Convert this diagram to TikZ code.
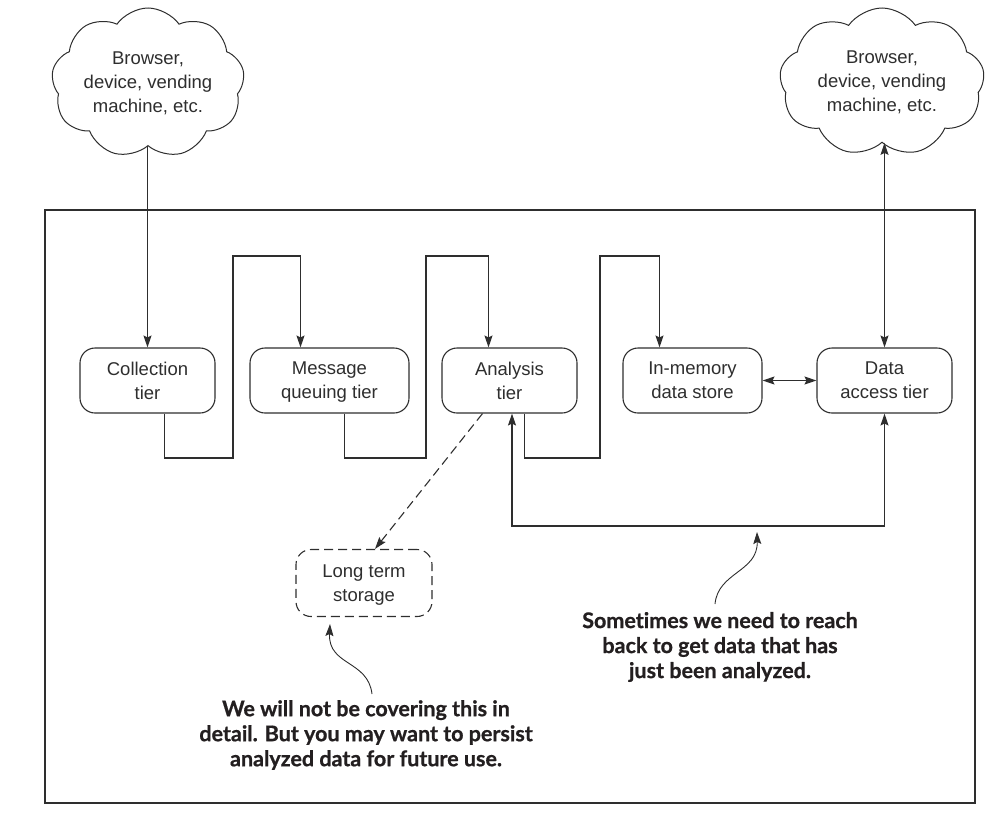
\documentclass[tikz,border=0pt]{standalone}
\usepackage{fontspec}
\setmainfont{Liberation Sans}
\newfontfamily\notefont{Lato}[Ligatures=NoCommon, BoldFeatures={FakeBold=0.8}]
\usetikzlibrary{shapes.symbols,arrows.meta}
\definecolor{ink}{HTML}{2E2E2E}
\definecolor{notes}{HTML}{231F20}
\begin{document}
\begin{tikzpicture}[x=1pt,y=-1pt,
  line width=1.1pt, draw=ink,
  every node/.style={text=ink, font=\fontsize{18.5}{24}\selectfont, align=center},
  tier/.style={draw=ink, rounded corners=15pt, minimum height=65pt, inner sep=2pt, text depth=0pt},
  sky/.style={draw=ink, line width=1pt, cloud, cloud puffs=9, cloud puff arc=110, cloud ignores aspect,
              minimum width=193pt, minimum height=150pt, inner sep=0pt},
  tip/.style={-{Stealth[length=12pt,width=8pt,inset=2pt]}},
  tips/.style={{Stealth[length=12pt,width=8pt,inset=2pt]}-{Stealth[length=12pt,width=8pt,inset=2pt]}},
  note/.style={text=notes, font=\notefont\bfseries\fontsize{21.5}{25}\selectfont, align=center}
]
\useasboundingbox (0,0) rectangle (1007,817);

% system boundary
\draw[ink] (45,210) rectangle (975,803);

% client clouds
\node[sky] (cloudL) at (148,83) {Browser,\\device, vending\\machine, etc.};
\node[sky, minimum width=205pt, minimum height=148pt] (cloudR) at (882,82) {Browser,\\device, vending\\machine, etc.};

% tiers
\node[tier, minimum width=135pt] (col) at (147.5,380.5) {Collection\\tier};
\node[tier, minimum width=159pt] (msg) at (329.5,380.5) {Message\\queuing tier};
\node[tier, minimum width=135pt] (ana) at (509.5,380.5) {Analysis\\tier};
\node[tier, minimum width=139pt] (mem) at (692.5,380.5) {In-memory\\data store};
\node[tier, minimum width=135pt] (dat) at (884.5,380.5) {Data\\access tier};
\node[tier, dashed, dash pattern=on 9pt off 5pt, minimum width=136pt, minimum height=67pt] (lts) at (364,583) {Long term\\storage};

% annotations
\node[note] (noteL) at (366,735) {We will not be covering this in\\detail. But you may want to persist\\analyzed data for future use.};
\node[note] (noteR) at (720,647) {Sometimes we need to reach\\back to get data that has\\just been analyzed.};

% data flow
\draw[tip] (cloudL.south -| col.north) -- (col.north);
\draw[tip] ([xshift=17pt]col.south) |- (233,458) -- (233,256) -| ([xshift=-29pt]msg.north);
\draw[tip] ([xshift=15pt]msg.south) |- (426,458) -- (426,256) -| ([xshift=-21pt]ana.north);
\draw[tip] ([xshift=15pt]ana.south) |- (600,458) -- (600,256) -| ([xshift=-33pt]mem.north);
\draw[tips] (mem.east) -- (dat.west);
\draw[tips] (dat.north) -- (dat.north |- cloudR.south);
\draw[tips] ([xshift=2.5pt]ana.south) |- (700,526) -| (dat.south);
\draw[tip, dashed, dash pattern=on 9pt off 5pt] ([xshift=-27pt]ana.south) -- ([xshift=11pt]lts.north);

% annotation pointers
\coordinate (pL) at (372,694);
\coordinate (pR) at (715,604);
\draw[tip, line width=0.9pt] (pL) .. controls (368,660) and (328,666) .. ([xshift=-34pt,yshift=-7pt]lts.south);
\draw[tip, line width=0.9pt] (pR) .. controls (718,572) and (758,572) .. (757,532);
\end{tikzpicture}
\end{document}
